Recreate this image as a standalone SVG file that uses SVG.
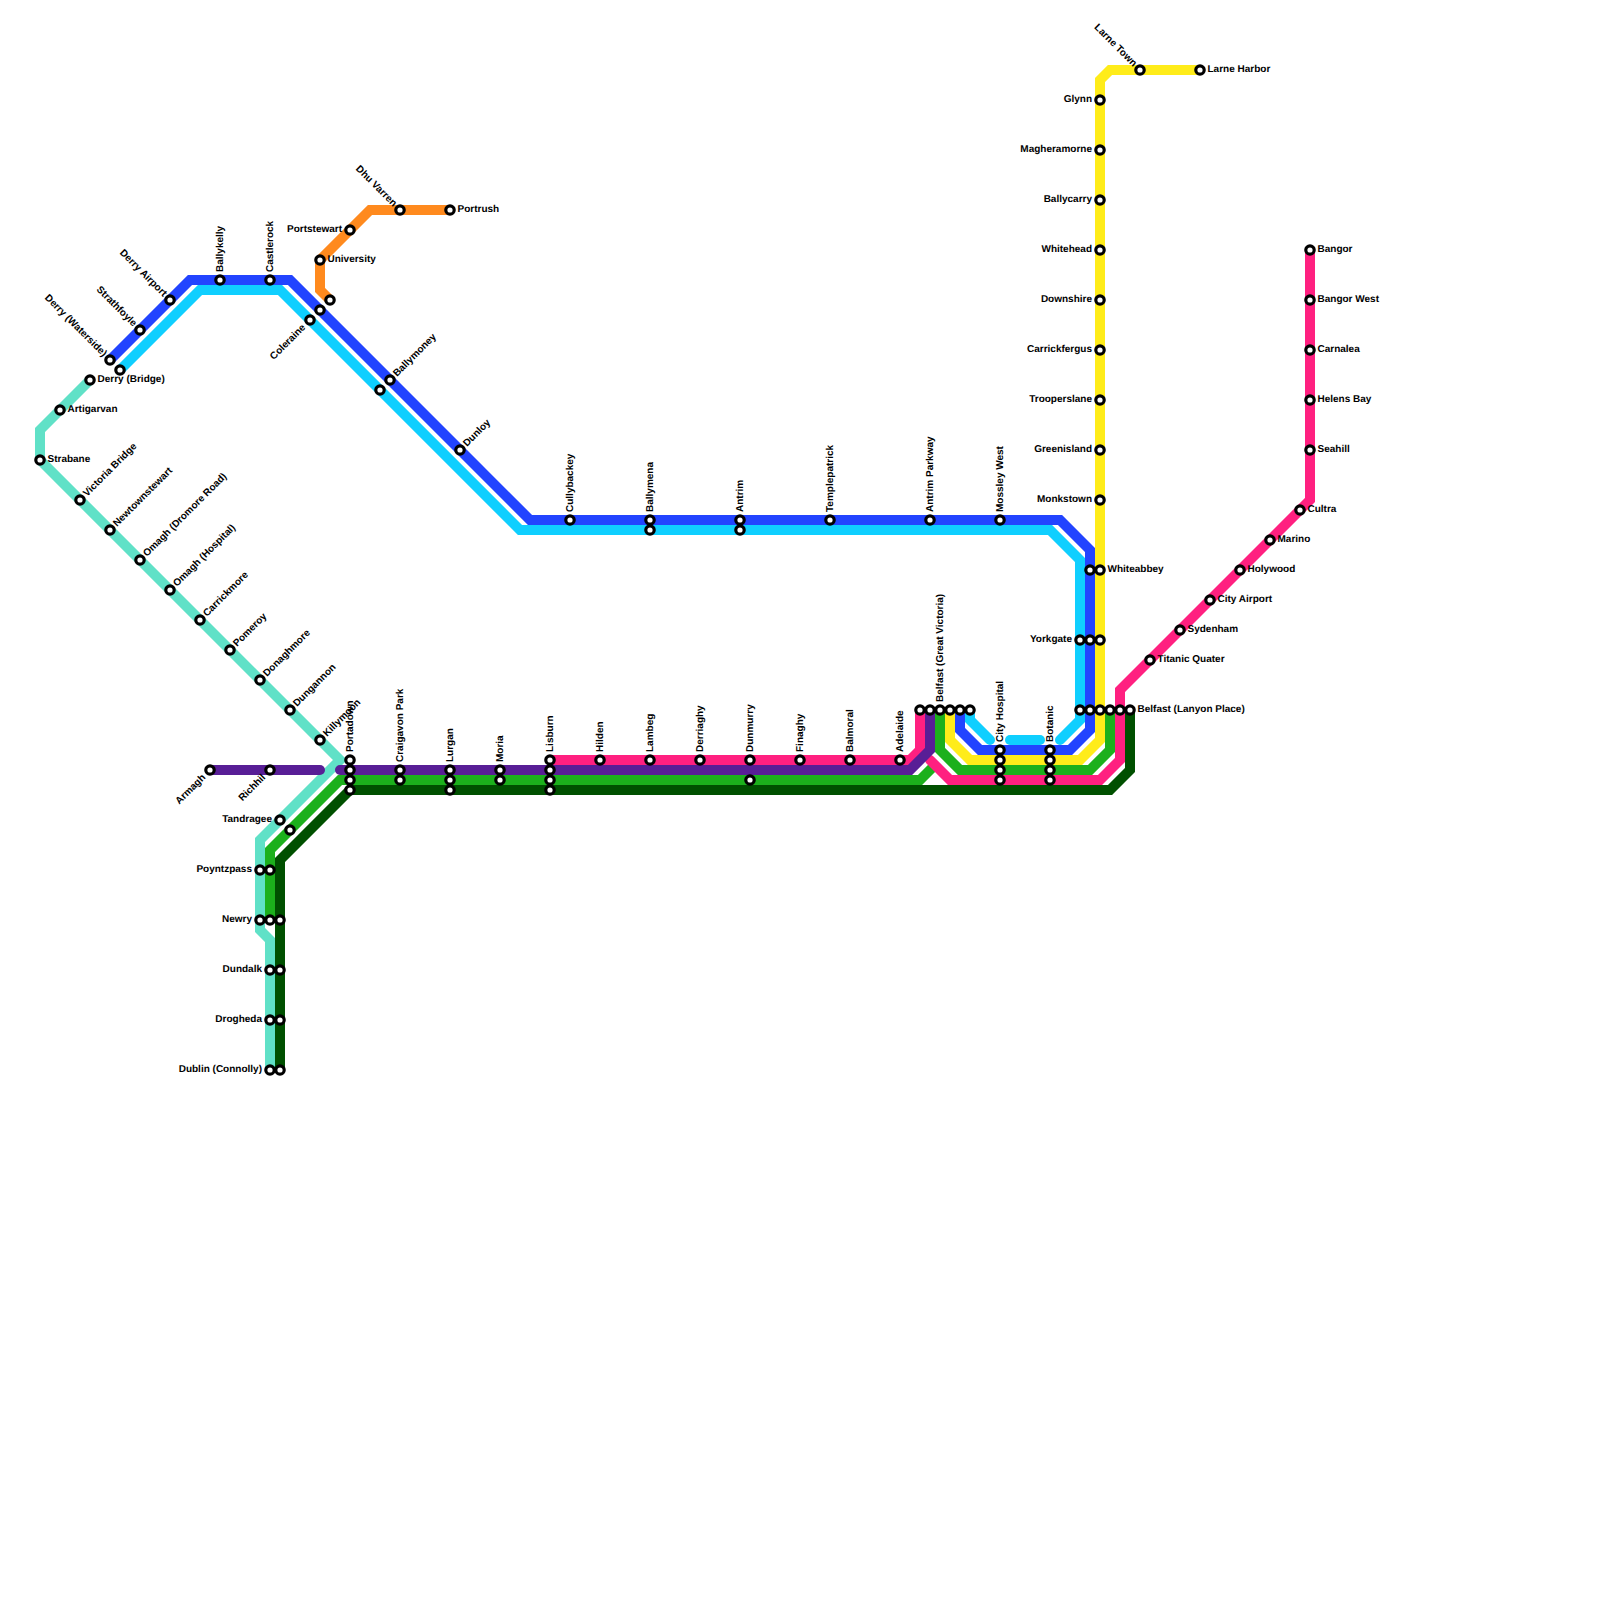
<svg xmlns="http://www.w3.org/2000/svg" width="1600" height="1600" viewBox="0 0 1600 1600">
<style>
text{font-family:"Liberation Sans",Arial,sans-serif;font-size:10px;font-weight:700;fill:#000;text-rendering:geometricPrecision}
.e{text-anchor:end}
.l{fill:none;stroke-width:10;stroke-linecap:round;stroke-linejoin:miter;stroke-miterlimit:10}
.s{fill:#fff;stroke:#000;stroke-width:3.2}
.teal{stroke:#60E1C7}.cyan{stroke:#0FCFFF}.blue{stroke:#2244FF}.yellow{stroke:#FFEC1A}.orange{stroke:#FF8A1E}.pink{stroke:#FF2080}.green{stroke:#1CB01C}.dark{stroke:#005000}.purple{stroke:#581E96}
</style>
<rect width="1600" height="1600" fill="#fff"/>
<g id="connectors">
<path class="l orange" d="M330 300L320 290V260L370 210H450"/>
<path class="l teal" d="M90 380L40 430V460L340 760L260 840V930L270 940V1070"/>
<path class="l cyan" d="M120 370L200 290H280L520 530H1050L1080 560V720L1060 740"/>
<path class="l cyan" d="M1010 740H1040"/>
<path class="l cyan" d="M970 710V720L990 740"/>
<path class="l blue" d="M110 360L190 280H290L530 520H1060L1090 550V730L1070 750H980L960 730V710"/>
<path class="l yellow" d="M1200 70H1110L1100 80V740L1080 760H970L950 740V710"/>
<path class="l dark" d="M280 1070V860L350 790H1110L1130 770V710"/>
<path class="l green" d="M270 920V850L340 780H920L933 767"/>
<path class="l green" d="M940 710V750L960 770H1090L1110 750V710"/>
<path class="l pink" d="M1310 250V500L1120 690V760L1100 780H950L930 760"/>
<path class="l pink" d="M920 710V750L910 760H550"/>
<path class="l purple" d="M210 770H320"/>
<path class="l purple" d="M340 770H910L930 750V710"/>
</g>
<g id="n-derry-waterside"><circle class="s" cx="110" cy="360" r="4.2"/><text class="e" transform="translate(103,357) rotate(45)">Derry (Waterside)</text></g>
<g id="n-strathfoyle"><circle class="s" cx="140" cy="330" r="4.2"/><text class="e" transform="translate(133,327) rotate(45)">Strathfoyle</text></g>
<g id="n-derry-airport"><circle class="s" cx="170" cy="300" r="4.2"/><text class="e" transform="translate(163,297) rotate(45)">Derry Airport</text></g>
<g id="n-ballykelly"><circle class="s" cx="220" cy="280" r="4.2"/><text transform="translate(222.500,272) rotate(-90)">Ballykelly</text></g>
<g id="n-castlerock"><circle class="s" cx="270" cy="280" r="4.2"/><text transform="translate(272.500,272) rotate(-90)">Castlerock</text></g>
<g id="n-x1"><circle class="s" cx="320" cy="310" r="4.2"/></g>
<g id="n-x2"><circle class="s" cx="330" cy="300" r="4.2"/></g>
<g id="n-coleraine"><circle class="s" cx="310" cy="320" r="4.2"/><text class="e" transform="translate(306,328) rotate(-45)">Coleraine</text></g>
<g id="n-ballymoney"><circle class="s" cx="390" cy="380" r="4.2"/><text transform="translate(397,377) rotate(-45)">Ballymoney</text></g>
<g id="n-x3"><circle class="s" cx="380" cy="390" r="4.2"/></g>
<g id="n-dunloy"><circle class="s" cx="460" cy="450" r="4.2"/><text transform="translate(467,447) rotate(-45)">Dunloy</text></g>
<g id="n-cullybackey"><circle class="s" cx="570" cy="520" r="4.2"/><text transform="translate(572.500,512) rotate(-90)">Cullybackey</text></g>
<g id="n-ballymena"><circle class="s" cx="650" cy="520" r="4.2"/><circle class="s" cx="650" cy="530" r="4.2"/><text transform="translate(652.500,512) rotate(-90)">Ballymena</text></g>
<g id="n-antrim"><circle class="s" cx="740" cy="520" r="4.2"/><circle class="s" cx="740" cy="530" r="4.2"/><text transform="translate(742.500,512) rotate(-90)">Antrim</text></g>
<g id="n-templepatrick"><circle class="s" cx="830" cy="520" r="4.2"/><text transform="translate(832.500,512) rotate(-90)">Templepatrick</text></g>
<g id="n-antrim-parkway"><circle class="s" cx="930" cy="520" r="4.2"/><text transform="translate(932.500,512) rotate(-90)">Antrim Parkway</text></g>
<g id="n-mossley-west"><circle class="s" cx="1000" cy="520" r="4.2"/><text transform="translate(1002.500,512) rotate(-90)">Mossley West</text></g>
<g id="n-derry-bridge"><circle class="s" cx="120" cy="370" r="4.2"/></g>
<g id="n-derry-bridge-teal"><circle class="s" cx="90" cy="380" r="4.2"/><text x="97.500" y="382">Derry (Bridge)</text></g>
<g id="n-artigarvan"><circle class="s" cx="60" cy="410" r="4.2"/><text x="67.500" y="412">Artigarvan</text></g>
<g id="n-strabane"><circle class="s" cx="40" cy="460" r="4.2"/><text x="47.500" y="462">Strabane</text></g>
<g id="n-victoria-bridge"><circle class="s" cx="80" cy="500" r="4.2"/><text transform="translate(87,497) rotate(-45)">Victoria Bridge</text></g>
<g id="n-newtownstewart"><circle class="s" cx="110" cy="530" r="4.2"/><text transform="translate(117,527) rotate(-45)">Newtownstewart</text></g>
<g id="n-omagh-dromore"><circle class="s" cx="140" cy="560" r="4.2"/><text transform="translate(147,557) rotate(-45)">Omagh (Dromore Road)</text></g>
<g id="n-omagh-hospital"><circle class="s" cx="170" cy="590" r="4.2"/><text transform="translate(177,587) rotate(-45)">Omagh (Hospital)</text></g>
<g id="n-carrickmore"><circle class="s" cx="200" cy="620" r="4.2"/><text transform="translate(207,617) rotate(-45)">Carrickmore</text></g>
<g id="n-pomeroy"><circle class="s" cx="230" cy="650" r="4.2"/><text transform="translate(237,647) rotate(-45)">Pomeroy</text></g>
<g id="n-donaghmore"><circle class="s" cx="260" cy="680" r="4.2"/><text transform="translate(267,677) rotate(-45)">Donaghmore</text></g>
<g id="n-dungannon"><circle class="s" cx="290" cy="710" r="4.2"/><text transform="translate(297,707) rotate(-45)">Dungannon</text></g>
<g id="n-killymoon"><circle class="s" cx="320" cy="740" r="4.2"/><text transform="translate(327,737) rotate(-45)">Killymoon</text></g>
<g id="n-armagh"><circle class="s" cx="210" cy="770" r="4.2"/><text class="e" transform="translate(206,778) rotate(-45)">Armagh</text></g>
<g id="n-richhill"><circle class="s" cx="270" cy="770" r="4.2"/><text class="e" transform="translate(266,778) rotate(-45)">Richhil</text></g>
<g id="n-tandragee"><circle class="s" cx="280" cy="820" r="4.2"/><text class="e" x="272" y="822">Tandragee</text></g>
<g id="n-x4"><circle class="s" cx="290" cy="830" r="4.2"/></g>
<g id="n-poyntzpass"><circle class="s" cx="260" cy="870" r="4.2"/><circle class="s" cx="270" cy="870" r="4.2"/><text class="e" x="252" y="872">Poyntzpass</text></g>
<g id="n-newry"><circle class="s" cx="260" cy="920" r="4.2"/><circle class="s" cx="270" cy="920" r="4.2"/><circle class="s" cx="280" cy="920" r="4.2"/><text class="e" x="252" y="922">Newry</text></g>
<g id="n-dundalk"><circle class="s" cx="270" cy="970" r="4.2"/><circle class="s" cx="280" cy="970" r="4.2"/><text class="e" x="262" y="972">Dundalk</text></g>
<g id="n-drogheda"><circle class="s" cx="270" cy="1020" r="4.2"/><circle class="s" cx="280" cy="1020" r="4.2"/><text class="e" x="262" y="1022">Drogheda</text></g>
<g id="n-dublin"><circle class="s" cx="270" cy="1070" r="4.2"/><circle class="s" cx="280" cy="1070" r="4.2"/><text class="e" x="262" y="1072">Dublin (Connolly)</text></g>
<g id="n-university"><circle class="s" cx="320" cy="260" r="4.2"/><text x="327.500" y="262">University</text></g>
<g id="n-portstewart"><circle class="s" cx="350" cy="230" r="4.2"/><text class="e" x="342" y="232">Portstewart</text></g>
<g id="n-dhu-varren"><circle class="s" cx="400" cy="210" r="4.2"/><text class="e" transform="translate(393,207) rotate(45)">Dhu Varren</text></g>
<g id="n-portrush"><circle class="s" cx="450" cy="210" r="4.2"/><text x="457.500" y="212">Portrush</text></g>
<g id="n-portadown"><circle class="s" cx="350" cy="760" r="4.2"/><circle class="s" cx="350" cy="770" r="4.2"/><circle class="s" cx="350" cy="780" r="4.2"/><circle class="s" cx="350" cy="790" r="4.2"/><text transform="translate(352.500,752) rotate(-90)">Portadown</text></g>
<g id="n-craigavon"><circle class="s" cx="400" cy="770" r="4.2"/><circle class="s" cx="400" cy="780" r="4.2"/><text transform="translate(402.500,762) rotate(-90)">Craigavon Park</text></g>
<g id="n-lurgan"><circle class="s" cx="450" cy="770" r="4.2"/><circle class="s" cx="450" cy="780" r="4.2"/><circle class="s" cx="450" cy="790" r="4.2"/><text transform="translate(452.500,762) rotate(-90)">Lurgan</text></g>
<g id="n-moria"><circle class="s" cx="500" cy="770" r="4.2"/><circle class="s" cx="500" cy="780" r="4.2"/><text transform="translate(502.500,762) rotate(-90)">Moria</text></g>
<g id="n-lisburn"><circle class="s" cx="550" cy="760" r="4.2"/><circle class="s" cx="550" cy="770" r="4.2"/><circle class="s" cx="550" cy="780" r="4.2"/><circle class="s" cx="550" cy="790" r="4.2"/><text transform="translate(552.500,752) rotate(-90)">Lisburn</text></g>
<g id="n-hilden"><circle class="s" cx="600" cy="760" r="4.2"/><text transform="translate(602.500,752) rotate(-90)">Hilden</text></g>
<g id="n-lambeg"><circle class="s" cx="650" cy="760" r="4.2"/><text transform="translate(652.500,752) rotate(-90)">Lambeg</text></g>
<g id="n-derriaghy"><circle class="s" cx="700" cy="760" r="4.2"/><text transform="translate(702.500,752) rotate(-90)">Derriaghy</text></g>
<g id="n-dunmurry"><circle class="s" cx="750" cy="760" r="4.2"/><circle class="s" cx="750" cy="780" r="4.2"/><text transform="translate(752.500,752) rotate(-90)">Dunmurry</text></g>
<g id="n-finaghy"><circle class="s" cx="800" cy="760" r="4.2"/><text transform="translate(802.500,752) rotate(-90)">Finaghy</text></g>
<g id="n-balmoral"><circle class="s" cx="850" cy="760" r="4.2"/><text transform="translate(852.500,752) rotate(-90)">Balmoral</text></g>
<g id="n-adelaide"><circle class="s" cx="900" cy="760" r="4.2"/><text transform="translate(902.500,752) rotate(-90)">Adelaide</text></g>
<g id="n-belfast-gv"><circle class="s" cx="920" cy="710" r="4.2"/><circle class="s" cx="930" cy="710" r="4.2"/><circle class="s" cx="940" cy="710" r="4.2"/><circle class="s" cx="950" cy="710" r="4.2"/><circle class="s" cx="960" cy="710" r="4.2"/><circle class="s" cx="970" cy="710" r="4.2"/><text transform="translate(942.500,702) rotate(-90)">Belfast (Great Victoria)</text></g>
<g id="n-city-hospital"><circle class="s" cx="1000" cy="750" r="4.2"/><circle class="s" cx="1000" cy="760" r="4.2"/><circle class="s" cx="1000" cy="770" r="4.2"/><circle class="s" cx="1000" cy="780" r="4.2"/><text transform="translate(1002.500,742) rotate(-90)">City Hospital</text></g>
<g id="n-botanic"><circle class="s" cx="1050" cy="750" r="4.2"/><circle class="s" cx="1050" cy="760" r="4.2"/><circle class="s" cx="1050" cy="770" r="4.2"/><circle class="s" cx="1050" cy="780" r="4.2"/><text transform="translate(1052.500,742) rotate(-90)">Botanic</text></g>
<g id="n-belfast-lanyon"><circle class="s" cx="1080" cy="710" r="4.2"/><circle class="s" cx="1090" cy="710" r="4.2"/><circle class="s" cx="1100" cy="710" r="4.2"/><circle class="s" cx="1110" cy="710" r="4.2"/><circle class="s" cx="1120" cy="710" r="4.2"/><circle class="s" cx="1130" cy="710" r="4.2"/><text x="1137.500" y="712">Belfast (Lanyon Place)</text></g>
<g id="n-yorkgate"><circle class="s" cx="1080" cy="640" r="4.2"/><circle class="s" cx="1090" cy="640" r="4.2"/><circle class="s" cx="1100" cy="640" r="4.2"/><text class="e" x="1072" y="642">Yorkgate</text></g>
<g id="n-whiteabbey"><circle class="s" cx="1090" cy="570" r="4.2"/><circle class="s" cx="1100" cy="570" r="4.2"/><text x="1107.500" y="572">Whiteabbey</text></g>
<g id="n-monkstown"><circle class="s" cx="1100" cy="500" r="4.2"/><text class="e" x="1092" y="502">Monkstown</text></g>
<g id="n-greenisland"><circle class="s" cx="1100" cy="450" r="4.2"/><text class="e" x="1092" y="452">Greenisland</text></g>
<g id="n-trooperslane"><circle class="s" cx="1100" cy="400" r="4.2"/><text class="e" x="1092" y="402">Trooperslane</text></g>
<g id="n-carrickfergus"><circle class="s" cx="1100" cy="350" r="4.2"/><text class="e" x="1092" y="352">Carrickfergus</text></g>
<g id="n-downshire"><circle class="s" cx="1100" cy="300" r="4.2"/><text class="e" x="1092" y="302">Downshire</text></g>
<g id="n-whitehead"><circle class="s" cx="1100" cy="250" r="4.2"/><text class="e" x="1092" y="252">Whitehead</text></g>
<g id="n-ballycarry"><circle class="s" cx="1100" cy="200" r="4.2"/><text class="e" x="1092" y="202">Ballycarry</text></g>
<g id="n-magheramorne"><circle class="s" cx="1100" cy="150" r="4.2"/><text class="e" x="1092" y="152">Magheramorne</text></g>
<g id="n-glynn"><circle class="s" cx="1100" cy="100" r="4.2"/><text class="e" x="1092" y="102">Glynn</text></g>
<g id="n-larne-town"><circle class="s" cx="1140" cy="70" r="4.2"/><text class="e" transform="translate(1133,67) rotate(45)">Larne Town</text></g>
<g id="n-larne-harbor"><circle class="s" cx="1200" cy="70" r="4.2"/><text x="1207.500" y="72">Larne Harbor</text></g>
<g id="n-bangor"><circle class="s" cx="1310" cy="250" r="4.2"/><text x="1317.500" y="252">Bangor</text></g>
<g id="n-bangor-west"><circle class="s" cx="1310" cy="300" r="4.2"/><text x="1317.500" y="302">Bangor West</text></g>
<g id="n-carnalea"><circle class="s" cx="1310" cy="350" r="4.2"/><text x="1317.500" y="352">Carnalea</text></g>
<g id="n-helens-bay"><circle class="s" cx="1310" cy="400" r="4.2"/><text x="1317.500" y="402">Helens Bay</text></g>
<g id="n-seahill"><circle class="s" cx="1310" cy="450" r="4.2"/><text x="1317.500" y="452">Seahill</text></g>
<g id="n-cultra"><circle class="s" cx="1300" cy="510" r="4.2"/><text x="1307.500" y="512">Cultra</text></g>
<g id="n-marino"><circle class="s" cx="1270" cy="540" r="4.2"/><text x="1277.500" y="542">Marino</text></g>
<g id="n-holywood"><circle class="s" cx="1240" cy="570" r="4.2"/><text x="1247.500" y="572">Holywood</text></g>
<g id="n-city-airport"><circle class="s" cx="1210" cy="600" r="4.2"/><text x="1217.500" y="602">City Airport</text></g>
<g id="n-sydenham"><circle class="s" cx="1180" cy="630" r="4.2"/><text x="1187.500" y="632">Sydenham</text></g>
<g id="n-titanic"><circle class="s" cx="1150" cy="660" r="4.2"/><text x="1157.500" y="662">Titanic Quater</text></g>
</svg>
